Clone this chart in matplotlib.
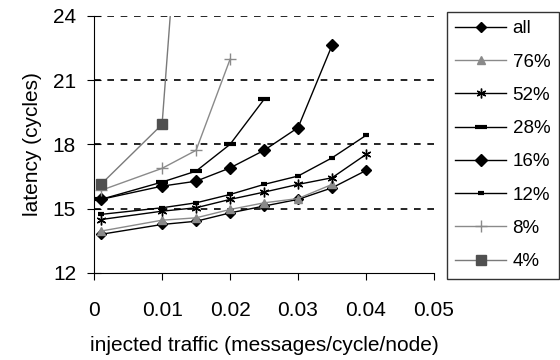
import numpy as np
import matplotlib.pyplot as plt

plt.rcParams['font.family'] = ['Liberation Sans', 'DejaVu Sans']

# injected traffic points (messages/cycle/node)
traffic = [0.001, 0.01, 0.015, 0.02, 0.025, 0.03, 0.035, 0.04]

lat_all = [13.8, 14.26, 14.41, 14.8, 15.12, 15.43, 15.97, 16.78]
lat_76 = [13.95, 14.46, 14.57, 14.96, 15.27, 15.47, 16.13]
lat_52 = [14.49, 14.88, 15.04, 15.43, 15.77, 16.13, 16.44, 17.53]
lat_28 = [15.43, 16.24, 16.75, 18.0, 20.1]
lat_16 = [15.43, 16.05, 16.28, 16.9, 17.72, 18.78, 22.62]
lat_12 = [14.73, 15.04, 15.27, 15.66, 16.13, 16.52, 17.37, 18.42]
lat_8 = [15.85, 16.88, 17.72, 21.97]
lat_4 = [16.13, 18.93, 40.0]

series = [
    ('all', lat_all, dict(color='black', marker='D', ms=5, mfc='black')),
    ('76%', lat_76, dict(color='#8a8a8a', marker='^', ms=6, mfc='#8a8a8a')),
    ('52%', lat_52, dict(color='black', marker=(6, 2, 0), ms=7, mew=1)),
    ('28%', lat_28, dict(color='black', marker='_', ms=8, mew=3)),
    ('16%', lat_16, dict(color='black', marker='D', ms=6, mfc='black')),
    ('12%', lat_12, dict(color='black', marker='_', ms=5, mew=3)),
    ('8%', lat_8, dict(color='#8a8a8a', marker='+', ms=8, mew=1)),
    ('4%', lat_4, dict(color='#7a7a7a', marker='s', ms=7, mfc='#505050', mec='#505050')),
]

fs = 15

fig = plt.figure(figsize=(5.6, 3.6), dpi=100)
ax = fig.add_axes([0.168, 0.242, 0.607, 0.714])

for y in [15, 18, 21, 24]:
    ax.axhline(y, color='black', ls=(0, (4, 4)), lw=1.2, zorder=0)

for label, vals, style in series:
    ax.plot(traffic[:len(vals)], vals, lw=1, label=label, clip_on=True, **style)

ax.set_xlim(0, 0.05)
ax.set_ylim(12, 24)
ax.set_xticks([0, 0.01, 0.02, 0.03, 0.04, 0.05])
ax.set_xticklabels(['0', '0.01', '0.02', '0.03', '0.04', '0.05'])
ax.set_yticks([12, 15, 18, 21, 24])
ax.spines['top'].set_visible(False)
ax.spines['right'].set_visible(False)
ax.tick_params(axis='y', direction='inout', length=10, labelsize=fs, pad=8)
ax.tick_params(axis='x', direction='out', length=5, labelsize=fs, pad=15)
ax.set_xlabel('injected traffic (messages/cycle/node)', fontsize=fs, labelpad=12)
ax.set_ylabel('latency (cycles)', fontsize=fs, labelpad=8)

leg = fig.legend(loc='upper left', bbox_to_anchor=(0.798, 0.967), fontsize=13.5,
                 frameon=True, fancybox=False, edgecolor='black',
                 labelspacing=0.86, handlelength=2.7, borderpad=0.45,
                 handletextpad=0.35, borderaxespad=0)
leg.get_frame().set_linewidth(1)

fig.savefig('out.png', dpi=100)
